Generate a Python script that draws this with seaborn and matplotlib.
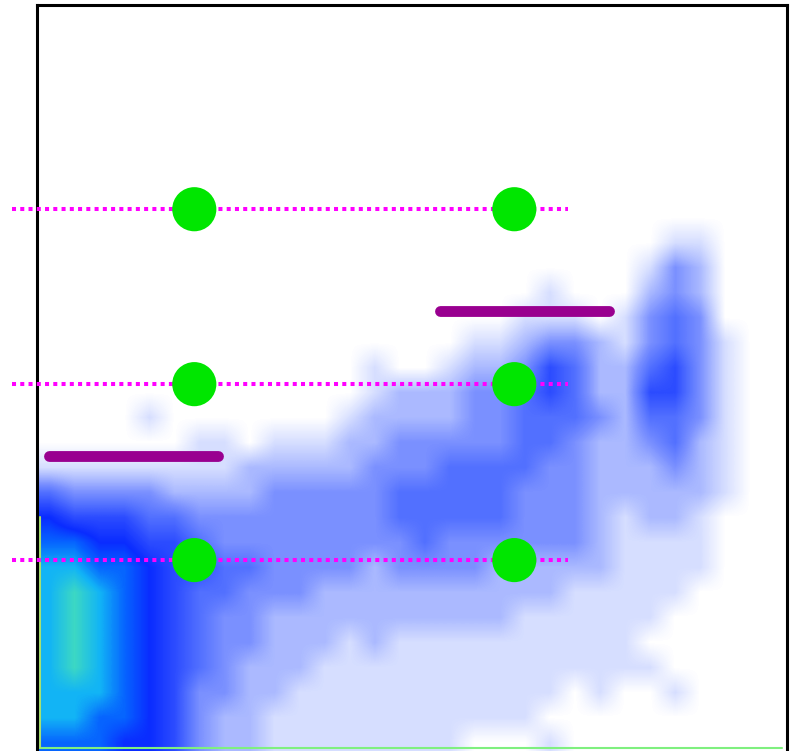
import numpy as np
import pandas as pd
import matplotlib
matplotlib.use("Agg")
import matplotlib.pyplot as plt
from matplotlib.colors import LinearSegmentedColormap
import seaborn as sns

# ---- data (x/y in channel units, 0..750 by 0..748) ----
# event density (0 = empty .. 9 = densest), rows from top to bottom, 30 columns
density_rows = [
    "00000 00000 00000 00000 00000 00000",
    "00000 00000 00000 00000 00000 00000",
    "00000 00000 00000 00000 00000 00000",
    "00000 00000 00000 00000 00000 00000",
    "00000 00000 00000 00000 00000 00000",
    "00000 00000 00000 00000 00000 00000",
    "00000 00000 00000 00000 00000 00000",
    "00000 00000 00000 00000 00000 00000",
    "00000 00000 00000 00000 00000 00000",
    "00000 00000 00000 00000 00000 11000",
    "00000 00000 00000 00000 00001 32000",
    "00000 00000 00000 00000 10002 32000",
    "00000 00000 00000 00001 11013 43000",
    "00000 00000 00000 00112 33213 43100",
    "00000 00000 00010 01223 54224 53100",
    "00000 00000 00012 22334 54225 53100",
    "00001 00000 00122 22334 44324 43100",
    "00000 01101 11223 33334 43223 42100",
    "11111 11122 22233 34444 33222 32100",
    "43333 22223 33334 44443 33222 22100",
    "65554 43333 33334 44443 33212 21000",
    "77665 54333 33333 43333 33211 11000",
    "88776 55443 33323 33322 22211 11000",
    "89876 54433 32222 22222 21111 10000",
    "89876 54332 22222 22221 11111 00000",
    "89876 54332 22121 11111 11110 00000",
    "89876 54322 21111 11111 11111 00000",
    "88876 53322 11111 11111 10100 10000",
    "88776 53221 11111 11111 00000 00000",
    "77766 53221 11111 11000 10000 00000",
]

gate_y = [544, 369, 193]            # magenta dotted gate levels
gate_x_start, gate_x_end = -25, 531
marker_x = [157, 477]               # green markers
marker_y = [544, 369, 193]
bar_x = [[12, 181], [403, 572]]     # purple bars
bar_y = [297, 442]

# ---- figure ----
W, H = 796, 751
fig = plt.figure(figsize=(W / 100, H / 100), dpi=100)
sns.set_style("white")
left_px, right_px, top_px, bottom_px = 37.3, 787.3, 5.3, 753.0
ax = fig.add_axes([left_px / W, 1 - bottom_px / H,
                   (right_px - left_px) / W, (bottom_px - top_px) / H])
ax.set_xlim(0, 750)
ax.set_ylim(0, 748)

dens = np.array([[int(ch) for ch in r.replace(" ", "")] for r in density_rows], float)
cmap = LinearSegmentedColormap.from_list("flow", [
    (0 / 9, "#ffffff"),
    (1 / 9, "#d6deff"),
    (2 / 9, "#aab9ff"),
    (3 / 9, "#7a90ff"),
    (4 / 9, "#5270ff"),
    (5 / 9, "#2c4cff"),
    (6 / 9, "#0a2cff"),
    (7 / 9, "#0664ff"),
    (8 / 9, "#12b4f6"),
    (9 / 9, "#3cd8c4"),
])
ax.imshow(dens, cmap=cmap, vmin=0, vmax=9, extent=(0, 750, -2, 748),
          origin="upper", interpolation="bilinear", aspect="auto", zorder=1)

# axis-edge events
ax.plot([2, 745], [5, 5], color="#7ff07f", lw=1.5, zorder=2)
ax.plot([2.5, 2.5], [5, 236], color="#a8e070", lw=1.5, zorder=2)

# gates
for gy in gate_y:
    ax.plot([gate_x_start, gate_x_end], [gy, gy], color="#ff00ff", lw=2.9,
            linestyle=(0, (1, 1.05)), dash_capstyle="butt", clip_on=False, zorder=3)

for (x0, x1), by in zip(bar_x, bar_y):
    ax.plot([x0, x1], [by, by], color="#990090", lw=7.8,
            solid_capstyle="round", zorder=4)

pts = pd.DataFrame([(x, y) for y in marker_y for x in marker_x], columns=["x", "y"])
sns.scatterplot(data=pts, x="x", y="y", ax=ax, s=1010, color="#00e600",
                edgecolor="none", linewidth=0, zorder=5, legend=False)

ax.set_xticks([])
ax.set_yticks([])
ax.set_xlabel("")
ax.set_ylabel("")
for side, sp in ax.spines.items():
    sp.set_visible(True)
    sp.set_color("black")
    sp.set_linewidth(2.2)

fig.savefig("out.png", dpi=100, facecolor="white")
